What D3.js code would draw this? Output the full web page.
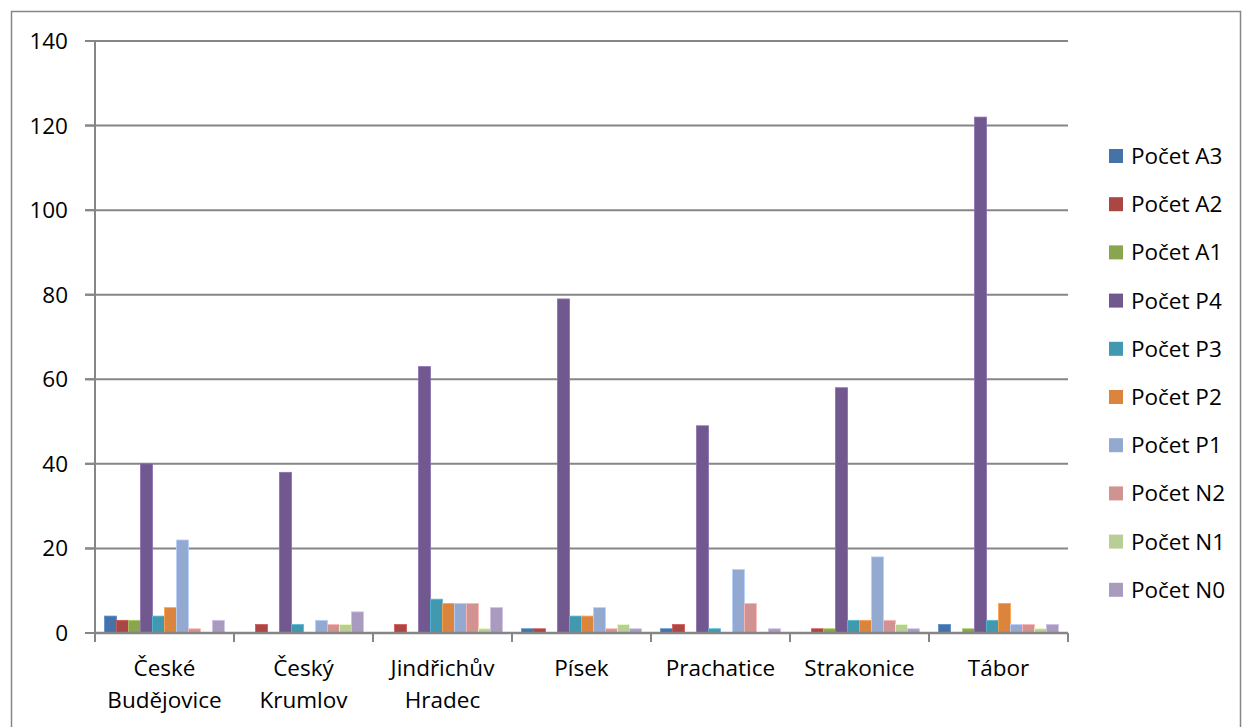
<!DOCTYPE html>
<html>
<head>
<meta charset="utf-8">
<script src="https://cdn.jsdelivr.net/npm/d3@7"></script>
<style>
  body { margin: 0; background: #fff; }
  text { font-family: "Open Sans", Lato, sans-serif; fill: #000; }
</style>
</head>
<body>
<svg id="chart" width="1242" height="727"></svg>
<script>
// data
const categories = ["České Budějovice", "Český Krumlov", "Jindřichův Hradec", "Písek", "Prachatice", "Strakonice", "Tábor"];
const series = ["Počet A3", "Počet A2", "Počet A1", "Počet P4", "Počet P3", "Počet P2", "Počet P1", "Počet N2", "Počet N1", "Počet N0"];
const colors = ["#4572a7", "#aa4643", "#89a54e", "#71588f", "#4198af", "#db843d", "#93a9cf", "#d19392", "#b9cd96", "#a99bbd"];
// one row per category, values in series order
const values = [
  [4, 3, 3, 40, 4, 6, 22, 1, 0, 3],
  [0, 2, 0, 38, 2, 0, 3, 2, 2, 5],
  [0, 2, 0, 63, 8, 7, 7, 7, 1, 6],
  [1, 1, 0, 79, 4, 4, 6, 1, 2, 1],
  [1, 2, 0, 49, 1, 0, 15, 7, 0, 1],
  [0, 1, 1, 58, 3, 3, 18, 3, 2, 1],
  [2, 0, 1, 122, 3, 7, 2, 2, 1, 2]
];
const yTicks = [0, 20, 40, 60, 80, 100, 120, 140];

const svg = d3.select("#chart");
const plotL = 95, plotR = 1068, plotT = 41, plotB = 633;
const grey = "#868686";
const fs = "22.5px";

// outer frame
svg.append("rect")
  .attr("x", 11.5).attr("y", 11.5)
  .attr("width", 1229).attr("height", 730)
  .attr("fill", "none").attr("stroke", grey).attr("stroke-width", 1.5);

const y = d3.scaleLinear().domain([0, 140]).range([plotB, plotT]);
const x0 = d3.scaleBand().domain(categories).range([plotL, plotR]);
const x1 = d3.scaleBand().domain(series).range([0, x0.bandwidth()]).paddingOuter(0.8);

// gridlines
svg.append("g").selectAll("line").data(yTicks.filter(d => d > 0)).join("line")
  .attr("x1", plotL - 10).attr("x2", plotR)
  .attr("y1", d => y(d)).attr("y2", d => y(d))
  .attr("stroke", grey).attr("stroke-width", 2);

// y labels
svg.append("g").selectAll("text").data(yTicks).join("text")
  .attr("x", 68).attr("y", d => y(d) + 8)
  .attr("text-anchor", "end")
  .style("font-size", fs)
  .text(d => d);

// bars
const groups = svg.append("g").selectAll("g").data(values).join("g")
  .attr("transform", (d, i) => `translate(${x0(categories[i])},0)`);
groups.selectAll("rect").data(d => d.map((v, j) => ({ v, j }))).join("rect")
  .attr("x", d => x1(series[d.j]))
  .attr("width", x1.bandwidth())
  .attr("y", d => y(d.v))
  .attr("height", d => plotB - y(d.v))
  .attr("fill", d => colors[d.j])
  .attr("stroke", d => d.v > 0 ? d3.color(colors[d.j]).brighter(0.6) : "none")
  .attr("stroke-width", 0.8);

// y axis line + ticks
svg.append("line").attr("x1", plotL).attr("x2", plotL).attr("y1", plotT).attr("y2", plotB)
  .attr("stroke", grey).attr("stroke-width", 2);
svg.append("g").selectAll("line").data(yTicks).join("line")
  .attr("x1", plotL - 10).attr("x2", plotL)
  .attr("y1", d => y(d)).attr("y2", d => y(d))
  .attr("stroke", grey).attr("stroke-width", 2);

// x axis line + ticks at category boundaries
svg.append("line").attr("x1", plotL).attr("x2", plotR).attr("y1", plotB).attr("y2", plotB)
  .attr("stroke", grey).attr("stroke-width", 2.5);
const bounds = categories.map(c => x0(c)).concat([plotR]);
svg.append("g").selectAll("line").data(bounds).join("line")
  .attr("x1", d => d).attr("x2", d => d)
  .attr("y1", plotB).attr("y2", plotB + 9)
  .attr("stroke", grey).attr("stroke-width", 2);

// category labels, split on space onto two lines
const labels = svg.append("g").selectAll("text").data(categories).join("text")
  .attr("text-anchor", "middle")
  .style("font-size", fs)
  .attr("transform", d => `translate(${x0(d) + x0.bandwidth() / 2},0)`);
labels.each(function(d) {
  const parts = d.split(" ");
  d3.select(this).selectAll("tspan").data(parts).join("tspan")
    .attr("x", 0)
    .attr("y", (p, i) => 676 + i * 32)
    .text(p => p);
});

// legend
const legend = svg.append("g").selectAll("g").data(series).join("g")
  .attr("transform", (d, i) => `translate(1109,${156 + i * 48.2})`);
legend.append("rect")
  .attr("x", 0).attr("y", -7).attr("width", 14).attr("height", 14)
  .attr("fill", (d, i) => colors[i]);
legend.append("text")
  .attr("x", 22).attr("y", 8)
  .style("font-size", fs)
  .text(d => d);
</script>
</body>
</html>
